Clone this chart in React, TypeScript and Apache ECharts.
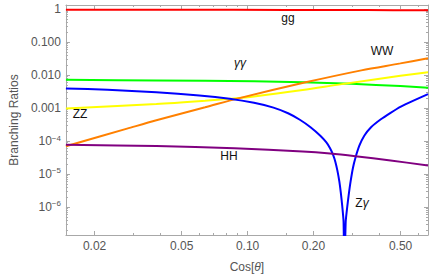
import React, { useEffect, useRef } from "react";
import * as echarts from "echarts";

// ---- axis ranges & ticks ----
const xMin = 0.0148;
const xMax = 0.667;
const yMin = 1.4e-7;
const yMax = 1.35;

const xMajorTicks = [0.02, 0.05, 0.1, 0.2, 0.5];
const xTickLabels = ["0.02", "0.05", "0.10", "0.20", "0.50"];
const xMinorTicks = [0.03, 0.04, 0.06, 0.07, 0.08, 0.09, 0.15, 0.3, 0.4, 0.6];

const yMajorTicks = [1e-6, 1e-5, 1e-4, 1e-3, 1e-2, 1e-1, 1];
const yTickLabels = ["10{sup|−6}", "10{sup|−5}", "10{sup|−4}", "0.001", "0.010", "0.100", "1"];
const yMinorMultipliers = [2, 3, 4, 5, 6, 7, 8, 9];
const yMinorDecades = [1e-7, 1e-6, 1e-5, 1e-4, 1e-3, 1e-2, 1e-1, 1];

// ---- series values [cos θ, branching ratio] ----
const ggData = [
  [0.0148, 0.97], [0.05, 0.965], [0.15, 0.955], [0.35, 0.945], [0.667, 0.935],
];
const gammaGammaData = [
  [0.0148, 0.0072], [0.0383, 0.00691], [0.107, 0.00653], [0.1786, 0.00609],
  [0.2986, 0.00545], [0.4988, 0.00467], [0.667, 0.00418],
];
const zzData = [
  [0.0148, 0.000972], [0.0383, 0.001321], [0.064, 0.001664], [0.0827, 0.001913],
  [0.107, 0.002262], [0.1786, 0.003536], [0.2694, 0.00534], [0.4988, 0.00952],
  [0.667, 0.01233],
];
const wwData = [
  [0.0148, 6.96e-5], [0.02815, 2.375e-4], [0.0383, 4.27e-4], [0.064, 0.001057],
  [0.0917, 0.00201], [0.1842, 0.00605], [0.3308, 0.01398], [0.4988, 0.02278],
  [0.667, 0.03274],
];
const zGammaData = [
  [0.0148, 0.003926], [0.02293, 0.003611], [0.0383, 0.003011], [0.06018, 0.002425],
  [0.08274, 0.001927], [0.107, 0.001447], [0.1313, 0.001035], [0.1531, 6.96e-4],
  [0.1733, 4.42e-4], [0.1939, 2.62e-4], [0.2149, 1.447e-4], [0.2286, 9.2e-5],
  [0.2381, 6.05e-5], [0.2456, 3.85e-5], [0.252, 2.28e-5], [0.2572, 1.26e-5],
  [0.2626, 5.84e-6], [0.2666, 2.71e-6], [0.2708, 1.02e-6], [0.2744, 3.58e-7],
  [0.2768, 1e-8],
  [0.2807, 3.58e-7], [0.285, 9.52e-7], [0.2894, 2.2e-6], [0.2954, 5.84e-6],
  [0.303, 1.55e-5], [0.311, 3.12e-5], [0.324, 7.2e-5], [0.3412, 1.447e-4],
  [0.3664, 2.62e-4], [0.4062, 4.58e-4], [0.45, 7.2e-4], [0.4988, 0.001095],
  [0.5758, 0.001723], [0.667, 0.002656],
];
const hhData = [
  [0.0148, 7.72e-5], [0.0383, 7.01e-5], [0.0871, 6.01e-5], [0.1786, 4.81e-5],
  [0.2381, 4.18e-5], [0.311, 3.46e-5], [0.45, 2.56e-5], [0.667, 1.81e-5],
];

const seriesNames = ["gg", "γγ", "ZZ", "WW", "Zγ", "HH"];
const seriesColors = ["#ff0000", "#00ff00", "#ffff00", "#ff8000", "#0000ff", "#800080"];
const seriesData = [ggData, gammaGammaData, zzData, wwData, zGammaData, hhData];
const seriesSmooth = [0.3, 0.3, 0.3, 0.3, 0.2, 0.3];

const FONT = "'Liberation Sans', Arial, sans-serif";
const TICK_TEXT = "#555555";
const FRAME = "#a8a8a8";

function findIndex(arr: number[], v: number) {
  for (let i = 0; i < arr.length; i++) {
    if (Math.abs(Math.log10(v) - Math.log10(arr[i])) < 0.01) return i;
  }
  return -1;
}

export default function App() {
  const ref = useRef<HTMLDivElement>(null);

  useEffect(() => {
    if (!ref.current) return;
    const chart = echarts.init(ref.current, undefined, { renderer: "svg" });

    const yMinorTicks: number[] = [];
    yMinorDecades.forEach((d) =>
      yMinorMultipliers.forEach((m) => {
        const v = d * m;
        if (v > yMin && v < yMax) yMinorTicks.push(v);
      })
    );

    const xBase: any = {
      type: "log",
      logBase: 10,
      min: xMin,
      max: xMax,
      splitLine: { show: false },
      minorTick: { show: false },
      minorSplitLine: { show: false },
    };
    const yBase: any = {
      type: "log",
      logBase: 10,
      min: yMin,
      max: yMax,
      splitLine: { show: false },
      minorTick: { show: false },
      minorSplitLine: { show: false },
    };

    const makeX = (pos: string, major: boolean, withLabels: boolean, withLine: boolean) => ({
      ...xBase,
      position: pos,
      axisLine: { show: withLine, onZero: false, lineStyle: { color: FRAME, width: 1 } },
      axisTick: {
        show: true,
        inside: true,
        length: major ? 4 : 2,
        customValues: major ? xMajorTicks : xMinorTicks,
        lineStyle: { color: FRAME, width: 1 },
      },
      axisLabel: withLabels
        ? {
            show: true,
            customValues: xMajorTicks,
            margin: 5,
            color: TICK_TEXT,
            fontSize: 12,
            fontFamily: FONT,
            formatter: (v: number) => {
              const i = findIndex(xMajorTicks, v);
              return i >= 0 ? xTickLabels[i] : "";
            },
          }
        : { show: false },
    });

    const makeY = (pos: string, major: boolean, withLabels: boolean, withLine: boolean) => ({
      ...yBase,
      position: pos,
      axisLine: { show: withLine, onZero: false, lineStyle: { color: FRAME, width: 1 } },
      axisTick: {
        show: true,
        inside: true,
        length: major ? 4 : 2,
        customValues: major ? yMajorTicks : yMinorTicks,
        lineStyle: { color: FRAME, width: 1 },
      },
      axisLabel: withLabels
        ? {
            show: true,
            customValues: yMajorTicks,
            margin: 5,
            color: TICK_TEXT,
            fontSize: 12,
            fontFamily: FONT,
            formatter: (v: number) => {
              const i = findIndex(yMajorTicks, v);
              return i >= 0 ? yTickLabels[i] : "";
            },
            rich: {
              sup: {
                fontSize: 8,
                color: TICK_TEXT,
                fontFamily: FONT,
                verticalAlign: "top",
                lineHeight: 14,
              },
            },
          }
        : { show: false },
    });

    const xAxes: any[] = [
      {
        ...makeX("bottom", true, true, true),
        name: "Cos[{i|θ}]",
        nameLocation: "middle",
        nameGap: 26,
        nameTextStyle: {
          color: TICK_TEXT,
          fontSize: 12,
          fontFamily: FONT,
          rich: { i: { fontStyle: "italic", fontSize: 12, color: TICK_TEXT, fontFamily: FONT } },
        },
      },
      makeX("bottom", false, false, false),
      makeX("top", true, false, true),
      makeX("top", false, false, false),
    ];
    const yAxes: any[] = [
      {
        ...makeY("left", true, true, true),
        name: "Branching Ratios",
        nameLocation: "middle",
        nameGap: 43,
        nameTextStyle: { color: TICK_TEXT, fontSize: 12, fontFamily: FONT },
      },
      makeY("left", false, false, false),
      makeY("right", true, false, true),
      makeY("right", false, false, false),
    ];

    const labels = [
      { text: "gg", x: 288, y: 18 },
      { text: "{i|γγ}", x: 240, y: 63 },
      { text: "WW", x: 382, y: 51 },
      { text: "ZZ", x: 80, y: 114 },
      { text: "HH", x: 229, y: 156 },
      { text: "Z{i|γ}", x: 362, y: 203 },
    ];

    chart.setOption({
      animation: false,
      backgroundColor: "#ffffff",
      grid: { left: 57, right: 8, top: 5, bottom: 44, containLabel: false },
      xAxis: xAxes,
      yAxis: yAxes,
      series: seriesData.map((d, i) => ({
        name: seriesNames[i],
        type: "line",
        xAxisIndex: 0,
        yAxisIndex: 0,
        data: d,
        showSymbol: false,
        symbol: "none",
        smooth: seriesSmooth[i],
        clip: true,
        lineStyle: { color: seriesColors[i], width: 2 },
        itemStyle: { color: seriesColors[i] },
        z: 2 + i,
      })),
      graphic: labels.map((l) => ({
        type: "text",
        x: l.x,
        y: l.y,
        z: 100,
        style: {
          text: l.text,
          fill: "#111111",
          fontSize: 12,
          fontFamily: FONT,
          align: "center",
          verticalAlign: "middle",
          rich: { i: { fontStyle: "italic", fontSize: 12, fontFamily: FONT, fill: "#111111" } },
        },
      })),
    });

    return () => chart.dispose();
  }, []);

  return (
    <div
      ref={ref}
      style={{ position: "fixed", left: 0, top: 0, width: 436, height: 279, background: "#fff" }}
    />
  );
}
